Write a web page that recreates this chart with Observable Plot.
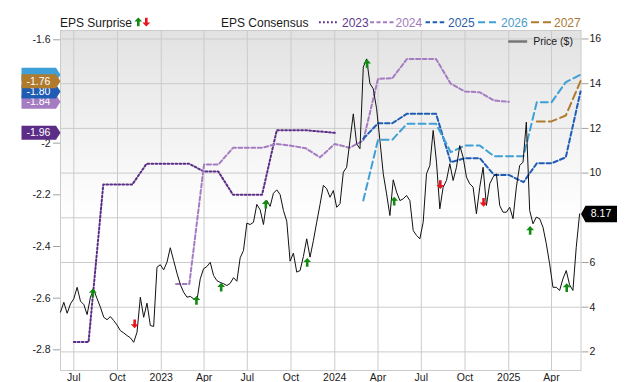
<!DOCTYPE html>
<html>
<head>
<meta charset="utf-8">
<script src="https://cdn.jsdelivr.net/npm/d3@7"></script>
<script src="https://cdn.jsdelivr.net/npm/@observablehq/plot@0.6"></script>
<style>
html,body{margin:0;padding:0;background:#fff;}
#root{width:640px;height:382px;overflow:hidden;}
#root svg{display:block;}
</style>
</head>
<body>
<div id="root"></div>
<script>
// ---------- data ----------
// weekly closing price ($), one value per week starting at priceStart
const priceStart = "2022-06-03";
const priceValues = [
  3.78,4.22,3.73,4.15,4.38,4.89,4.27,4.12,3.67,4.45,4.78,4.38,4.00,3.55,3.44,3.58,3.40,3.20,2.95,2.85,
  2.73,2.63,2.43,2.88,4.45,3.55,4.18,3.18,3.14,5.79,5.90,5.67,6.01,6.66,6.09,5.52,5.02,4.67,4.45,4.48,
  4.38,4.30,5.27,5.72,5.82,6.01,5.42,5.19,5.11,5.05,4.97,5.07,5.32,5.16,6.21,6.54,7.76,7.70,7.80,8.60,
  8.36,7.70,8.77,8.51,9.10,9.25,9.04,8.33,7.85,6.06,6.42,5.57,5.64,6.27,7.06,6.24,6.98,7.80,8.60,9.45,
  9.30,8.92,9.22,8.47,8.63,10.04,10.26,11.46,12.65,11.31,11.09,14.74,15.11,14.00,13.77,12.88,11.46,9.97,9.07,8.10,
  9.70,9.15,8.77,8.85,9.00,8.77,7.43,7.21,7.06,7.80,9.97,10.34,11.91,10.49,8.40,9.37,9.67,10.42,9.67,10.26,
  11.23,10.71,9.82,9.52,9.37,8.18,9.37,10.26,8.55,9.52,9.82,9.97,8.55,8.25,8.25,8.47,7.96,9.37,10.34,10.49,
  12.28,8.33,7.73,8.03,7.96,7.58,6.84,5.94,4.89,4.89,4.75,5.27,5.64,5.00,4.75,6.68,8.17
];

// monthly EPS consensus per fiscal year
const eps2023Start = "2022-07-01";
const eps2023 = [-2.77,-2.77,-2.16,-2.16,-2.16,-2.08,-2.08,-2.08,-2.08,-2.11,-2.11,-2.20,-2.20,-2.20,-1.95,-1.95,-1.95,-1.955,-1.96];
const eps2024Start = "2023-02-01";
const eps2024 = [-2.545,-2.545,-2.083,-2.083,-2.018,-2.018,-2.018,-2.003,-2.01,-2.02,-2.055,-2.003,-2.018,-1.99,-1.751,-1.749,-1.674,-1.674,-1.674,-1.77,-1.80,-1.803,-1.835,-1.84];
const eps2025Start = "2024-03-01";
const eps2025 = [-1.983,-1.923,-1.923,-1.886,-1.886,-1.886,-2.074,-2.058,-2.058,-2.123,-2.123,-2.151,-2.078,-2.078,-2.055,-1.80];
const eps2026Start = "2024-03-01";
const eps2026 = [-2.222,-1.987,-1.987,-1.925,-1.925,-1.925,-2.035,-2.009,-2.009,-2.051,-2.051,-2.051,-1.842,-1.842,-1.764,-1.735];
const eps2027Start = "2025-03-01";
const eps2027 = [-1.916,-1.916,-1.893,-1.76];

const seriesNames  = ["2023","2024","2025","2026","2027"];
const seriesColors = ["#5b2d86","#a57cc1","#1f5db4","#3ea0d6","#b07b2d"];
const seriesText   = ["#5e3a8c","#a07cbd","#2d5fa6","#4a9bc9","#a87a35"];
const seriesDash   = ["1.8,2.2","4,2.5","4.5,2.6","7,4","8,4"];

// EPS surprises (date, price level, beat=1 / miss=0)
const surpriseDates = ["2022-08-10","2022-11-06","2023-03-16","2023-05-07","2023-08-09","2023-11-04","2024-03-09","2024-05-05","2024-08-10","2024-11-09","2025-02-15","2025-05-03"];
const surprisePrice = [4.63,3.26,4.30,4.89,8.60,6.00,14.89,8.74,9.49,8.70,7.43,4.87];
const surpriseBeat  = [1,0,1,1,1,1,1,1,0,0,1,1];

// axes
const xDomain = ["2022-06-03","2025-06-02"];
const xTicks = ["2022-07-01","2022-10-01","2023-01-01","2023-04-01","2023-07-01","2023-10-01","2024-01-01","2024-04-01","2024-07-01","2024-10-01","2025-01-01","2025-04-01"];
const priceDomain = [1.168, 16.38];
const epsDomain = [-2.88, -1.564];
const priceGrid = [2,4,6,8,10,12,14,16];
const priceTicks = [2,4,6,10,12,14,16]; // "8" sits under the last-price badge
const epsTicks = [-1.6,-2.0,-2.2,-2.4,-2.6,-2.8];
const monthNames = ["Jan","Feb","Mar","Apr","May","Jun","Jul","Aug","Sep","Oct","Nov","Dec"];

// ---------- build ----------
const FONT = "'Liberation Sans', Arial, Helvetica, sans-serif";
const toPrice = d3.scaleLinear(epsDomain, priceDomain);
const toEps = d3.scaleLinear(priceDomain, epsDomain);

const priceData = priceValues.map((v, i) => ({date: d3.utcDay.offset(new Date(priceStart), 7 * i), price: v}));
function monthly(start, vals) {
  return vals.map((v, i) => ({date: d3.utcMonth.offset(new Date(start), i), eps: v}));
}
const series = [
  monthly(eps2023Start, eps2023),
  monthly(eps2024Start, eps2024),
  monthly(eps2025Start, eps2025),
  monthly(eps2026Start, eps2026),
  monthly(eps2027Start, eps2027)
];
const surprises = surpriseDates.map((d, i) => ({date: new Date(d), price: surprisePrice[i], beat: surpriseBeat[i]}));

const arrowUp = {draw(c) {
  c.moveTo(0,-4.6); c.lineTo(3.9,-0.4); c.lineTo(1.3,-0.4); c.lineTo(1.3,4.2);
  c.lineTo(-1.3,4.2); c.lineTo(-1.3,-0.4); c.lineTo(-3.9,-0.4); c.closePath();
}};
const arrowDown = {draw(c) {
  c.moveTo(0,4.6); c.lineTo(3.9,0.4); c.lineTo(1.3,0.4); c.lineTo(1.3,-4.2);
  c.lineTo(-1.3,-4.2); c.lineTo(-1.3,0.4); c.lineTo(-3.9,0.4); c.closePath();
}};
const badgeLeft = {draw(c) {
  c.moveTo(0,0); c.lineTo(-4.5,-7); c.lineTo(-39,-7); c.lineTo(-39,7); c.lineTo(-4.5,7); c.closePath();
}};
const badgeRight = {draw(c) {
  c.moveTo(0,0); c.lineTo(4.5,-8.3); c.lineTo(36,-8.3); c.lineTo(36,8.3); c.lineTo(4.5,8.3); c.closePath();
}};
const swatch = {draw(c) { c.moveTo(-9.5,0); c.lineTo(9.5,0); }};

// legend (above the plot svg)
const leg = d3.create("svg").attr("width", 640).attr("height", 28)
  .style("font-family", FONT).style("font-size", "12px");
leg.append("text").attr("x", 60).attr("y", 26.5).attr("fill", "#1a1a1a").text("EPS Surprise");
leg.append("path").attr("transform", "translate(138.3,22)").attr("fill", "#138a13")
  .attr("d", d3.symbol(arrowUp)());
leg.append("path").attr("transform", "translate(146.3,22)").attr("fill", "#e8141a")
  .attr("d", d3.symbol(arrowDown)());
leg.append("text").attr("x", 221).attr("y", 26.5).attr("fill", "#1a1a1a").text("EPS Consensus");
const legLines = [[319,337,342],[370,394.5,395.5],[425.5,445,448],[478,496.5,501],[531,551,554]];
seriesNames.forEach((n, i) => {
  const [a, b, t] = legLines[i];
  leg.append("line").attr("x1", a).attr("x2", b).attr("y1", 22.3).attr("y2", 22.3)
    .attr("stroke", seriesColors[i]).attr("stroke-width", 2).attr("stroke-dasharray", seriesDash[i]);
  leg.append("text").attr("x", t).attr("y", 26.5).attr("fill", seriesText[i]).text(n);
});

const grid = "#cbcbcb";
const lastPrice = priceValues[priceValues.length - 1];
// 2023 badge, then stacked badges 2026 (hidden behind), 2024, 2025, 2027
const badgeOrder = [0, 3, 1, 2, 4];
const badgeMarks = [];
badgeOrder.forEach(i => {
  const v = series[i][series[i].length - 1].eps;
  badgeMarks.push(Plot.dot([v], {y: d => toPrice(d), frameAnchor: "left", symbol: badgeLeft, fill: seriesColors[i], stroke: "none", r: 5}));
  if (i !== 3) badgeMarks.push(Plot.text([v], {y: d => toPrice(d), frameAnchor: "left", dx: -22, text: d => d.toFixed(2), fill: "white", fontSize: 10.5, textAnchor: "middle"}));
});

const chart = Plot.plot({
  width: 640,
  height: 354,
  marginTop: 2,
  marginBottom: 12,
  marginLeft: 60,
  marginRight: 59.5,
  style: {fontFamily: FONT, fontSize: "10px", overflow: "visible", background: "none", color: "#1a1a1a"},
  x: {type: "utc", domain: xDomain.map(d => new Date(d)), label: null},
  y: {domain: priceDomain, label: null},
  marks: [
    Plot.frame({fill: "url(#bgGrad)", stroke: "none"}),
    Plot.ruleX(xTicks.map(d => new Date(d)), {stroke: grid, strokeWidth: 1}),
    Plot.ruleY(priceGrid, {stroke: grid, strokeWidth: 1}),
    Plot.frame({stroke: grid, fill: "none"}),
    ...series.map((s, i) => Plot.line(s, {x: "date", y: d => toPrice(d.eps), stroke: seriesColors[i], strokeWidth: 2, strokeDasharray: seriesDash[i]})),
    Plot.line(priceData, {x: "date", y: "price", stroke: "#111", strokeWidth: 1}),
    Plot.dot(surprises.filter(d => d.beat), {x: "date", y: "price", symbol: arrowUp, fill: "#138a13", stroke: "none", r: 5}),
    Plot.dot(surprises.filter(d => !d.beat), {x: "date", y: "price", symbol: arrowDown, fill: "#e8141a", stroke: "none", r: 5}),
    Plot.dot(["Price ($)"], {frameAnchor: "top-right", dx: -63.3, dy: 11, symbol: swatch, stroke: "#777", strokeWidth: 2.5, fill: "none", r: 5}),
    Plot.text(["Price ($)"], {frameAnchor: "top-right", dx: -47.8, dy: 11, text: d => d, textAnchor: "start", lineAnchor: "middle", fontSize: 10.5, fill: "#1a1a1a"}),
    Plot.axisY(priceTicks, {anchor: "right", tickSize: 7, tickPadding: 1.5, stroke: "#a0a0a0", fill: "#1a1a1a", tickFormat: d => String(d), fontSize: 10.5}),
    Plot.axisY(epsTicks.map(e => toPrice(e)), {anchor: "left", tickSize: 7, tickPadding: 3, stroke: "#a0a0a0", fill: "#1a1a1a", tickFormat: d => String(+toEps(d).toFixed(1)), fontSize: 10.5}),
    Plot.axisX(xTicks.map(d => new Date(d)), {anchor: "bottom", tickSize: 0, tickPadding: 3, fill: "#1a1a1a", fontSize: 10.5,
      tickFormat: d => d.getUTCMonth() === 0 ? String(d.getUTCFullYear()) : monthNames[d.getUTCMonth()]}),
    ...badgeMarks,
    Plot.dot([lastPrice], {y: d => d, frameAnchor: "right", symbol: badgeRight, fill: "#000", stroke: "none", r: 5}),
    Plot.text([lastPrice], {y: d => d, frameAnchor: "right", dx: 20, text: d => d.toFixed(2), fill: "white", fontSize: 10.5, textAnchor: "middle"})
  ]
});

const defs = d3.select(chart).insert("defs", ":first-child");
const lg = defs.append("linearGradient").attr("id", "bgGrad").attr("x1", 0).attr("y1", 0).attr("x2", 0).attr("y2", 1);
lg.append("stop").attr("offset", 0).attr("stop-color", "#e2e2e2");
lg.append("stop").attr("offset", 0.55).attr("stop-color", "#ffffff");
lg.append("stop").attr("offset", 1).attr("stop-color", "#ffffff");

const root = document.getElementById("root");
root.appendChild(leg.node());
root.appendChild(chart);
</script>
</body>
</html>
